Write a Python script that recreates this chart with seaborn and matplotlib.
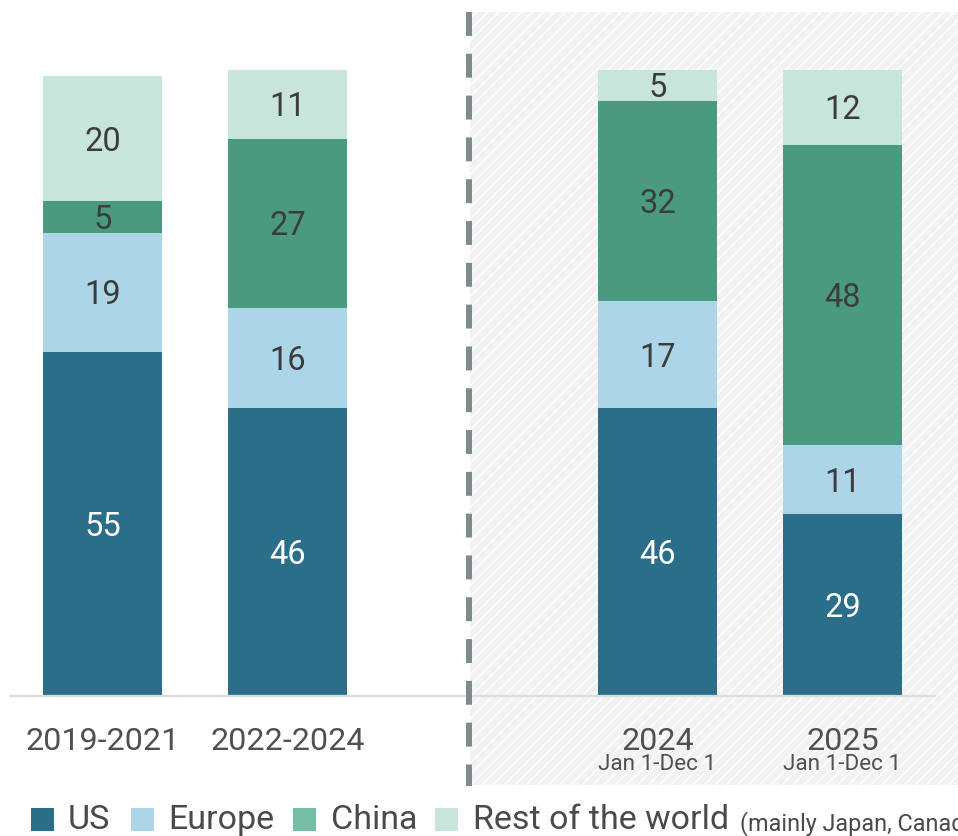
import matplotlib
matplotlib.use("Agg")
import matplotlib.pyplot as plt
from matplotlib.patches import Rectangle
from matplotlib.lines import Line2D
import matplotlib.transforms as mtransforms
import numpy as np
import pandas as pd
import seaborn as sns

# ---- data ----
periods = ["2019-2021", "2022-2024", "2024", "2025"]
sublabels = ["", "", "Jan 1-Dec 1", "Jan 1-Dec 1"]
positions = [0, 1, 3, 4]
us = [55, 46, 46, 29]
europe = [19, 16, 17, 11]
china = [5, 27, 32, 48]
rest = [20, 11, 5, 12]
series_names = ["US", "Europe", "China", "Rest of the world"]
legend_note = "(mainly Japan, Canada)"

bar_colors = ["#2a6e8a", "#acd6e8", "#4a9a80", "#c8e5dc"]
legend_colors = ["#2a6e8a", "#acd6e8", "#76bfa5", "#c8e5dc"]
label_colors = ["white", "#3c3c3c", "#3c3c3c", "#3c3c3c"]

sns.set_theme(style="white")
plt.rcParams["font.family"] = ["Roboto", "DejaVu Sans"]

W, H = 958, 836
fig = plt.figure(figsize=(W / 100, H / 100), dpi=100)

def fx(px):
    return px / W

def fy(py):
    return 1 - py / H

ax = fig.add_axes([fx(10), fy(696), fx(935) - fx(10), fy(12) - fy(696)])
ax.set_facecolor("none")

# shaded region (projection area)
shade = Rectangle((fx(470), fy(785)), 1 - fx(470), fy(12) - fy(785),
                  transform=fig.transFigure, facecolor="#f2f2f2",
                  edgecolor="white", hatch="///", linewidth=0, zorder=-1)
fig.add_artist(shade)

series = [us, europe, china, rest]
cum = np.cumsum(np.array(series), axis=0)
df = pd.DataFrame({"pos": positions})
for i in range(4):
    df[f"c{i}"] = cum[i]

# draw cumulative bars from top down
for i in range(3, -1, -1):
    sns.barplot(data=df, x="pos", y=f"c{i}", native_scale=True,
                color=bar_colors[i], saturation=1, width=0.643,
                errorbar=None, linewidth=0, ax=ax)

# segment labels (shifted slightly down)
lbl_trans = ax.transData + mtransforms.ScaledTranslation(0, -3 / 100, fig.dpi_scale_trans)
for j, p in enumerate(positions):
    bottom = 0
    for i in range(4):
        v = series[i][j]
        ax.text(p, bottom + v / 2, str(v), ha="center", va="center",
                fontsize=23.5, color=label_colors[i], transform=lbl_trans)
        bottom += v

ax.set_xlim(-0.5, 4.5)
ax.set_ylim(0, (696 - 12) / 6.263)
ax.set_yticks([])
ax.set_ylabel("")
ax.set_xlabel("")
for s in ax.spines.values():
    s.set_visible(False)
ax.axhline(0, color="#dcdcdc", lw=1.6, zorder=5, clip_on=False)

ax.set_xticks(positions)
ax.set_xticklabels(periods, fontsize=23.2, color="#505050")
ax.tick_params(axis="x", length=0, pad=22)

trans = mtransforms.blended_transform_factory(ax.transData, ax.transAxes)
for p, sl in zip(positions, sublabels):
    if sl:
        ax.text(p, -(765 - 696) / 684, sl, transform=trans, ha="center",
                va="center", fontsize=16.2, color="#505050")

# dashed separator
fig.add_artist(Line2D([fx(469), fx(469)], [fy(12), fy(786)],
                      transform=fig.transFigure, color="#7a8c8c",
                      lw=4.3, linestyle=(0, (4.0, 3.0)), solid_capstyle="butt",
                      dash_capstyle="butt", zorder=3))

# legend (manual)
patch_x = [31, 131, 293, 435]
text_x = [68, 168, 331, 473]
for i in range(4):
    fig.add_artist(Rectangle((fx(patch_x[i]), fy(831)), fx(23), 23 / H,
                             transform=fig.transFigure,
                             facecolor=legend_colors[i], linewidth=0))
    fig.text(fx(text_x[i]), fy(820), series_names[i], fontsize=24.5,
             color="#4a4a4a", ha="left", va="center")
fig.text(fx(740), fy(824), legend_note, fontsize=16.8, color="#4a4a4a",
         ha="left", va="center")

fig.savefig("out.png", dpi=100)
